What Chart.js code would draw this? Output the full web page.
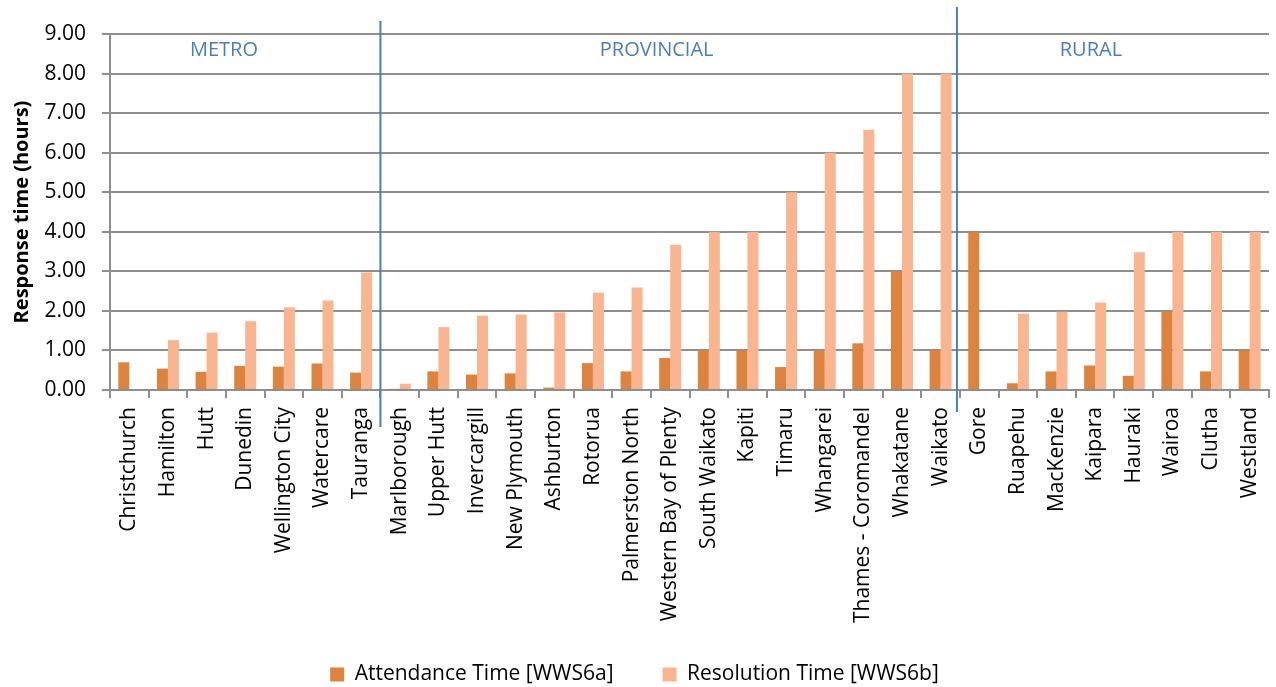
<!DOCTYPE html>
<html>
<head>
<meta charset="utf-8">
<title>Response time by council</title>
<script src="https://cdn.jsdelivr.net/npm/chart.js@4.4.1/dist/chart.umd.min.js"></script>
<style>
  html, body { margin: 0; padding: 0; background: #ffffff; }
  #wrap { width: 1276px; height: 687px; position: relative; }
</style>
</head>
<body>
<div id="wrap"><canvas id="chart"></canvas></div>
<script>
// Councils, grouped into metro / provincial / rural
const categories = [
  'Christchurch', 'Hamilton', 'Hutt', 'Dunedin', 'Wellington City', 'Watercare', 'Tauranga',
  'Marlborough', 'Upper Hutt', 'Invercargill', 'New Plymouth', 'Ashburton', 'Rotorua',
  'Palmerston North', 'Western Bay of Plenty', 'South Waikato', 'Kapiti', 'Timaru',
  'Whangarei', 'Thames - Coromandel', 'Whakatane', 'Waikato',
  'Gore', 'Ruapehu', 'MacKenzie', 'Kaipara', 'Hauraki', 'Wairoa', 'Clutha', 'Westland'
];

// Median response times in hours
const attendanceTime = [
  0.70, 0.54, 0.46, 0.61, 0.59, 0.67, 0.44,
  0.03, 0.47, 0.39, 0.42, 0.06, 0.68, 0.47, 0.81, 1.00, 1.00, 0.58, 1.00, 1.18, 3.00, 1.00,
  4.00, 0.17, 0.47, 0.62, 0.36, 2.00, 0.47, 1.00
];
const resolutionTime = [
  null, 1.26, 1.45, 1.74, 2.09, 2.26, 2.97,
  0.16, 1.59, 1.88, 1.91, 1.96, 2.46, 2.59, 3.67, 4.00, 4.00, 5.00, 6.00, 6.58, 8.00, 8.00,
  null, 1.93, 1.98, 2.21, 3.48, 4.00, 4.00, 4.00
];

const seriesNames = ['Attendance Time [WWS6a]', 'Resolution Time [WWS6b]'];
const groupNames = ['METRO', 'PROVINCIAL', 'RURAL'];
// first and last council of each group
const groupFirst = ['Christchurch', 'Marlborough', 'Gore'];
const groupLast = ['Tauranga', 'Waikato', 'Westland'];

const yTicks = { min: 0, max: 9, step: 1 };

const FONT = "'Open Sans', 'DejaVu Sans', sans-serif";
const GRID = '#8e8e8e';
const BLUE = '#4a7ebb';

// Group captions and the blue dividers between groups
const groupPlugin = {
  id: 'groupDividers',
  // let the long rotated council names run down past the axis box
  afterLayout(chart) {
    chart.scales.x.bottom = chart.height;
  },
  afterDatasetsDraw(chart) {
    const { ctx, chartArea, scales: { x } } = chart;
    // divider styling per boundary: horizontal nudge and vertical extent
    const dividerStyle = [
      { dx: 0, top: 21, below: 37 },
      { dx: -3, top: 7, below: 22 }
    ];
    // caption placement: shift from the group centre, in categories
    const captionShift = [-0.55, -0.35, -0.61];

    ctx.save();
    for (let g = 0; g < groupNames.length; g++) {
      const i0 = categories.indexOf(groupFirst[g]);
      const i1 = categories.indexOf(groupLast[g]);
      const mid = (i0 + i1) / 2 + captionShift[g];
      const cx = x.getPixelForValue(mid);
      ctx.fillStyle = BLUE;
      ctx.font = `20px ${FONT}`;
      ctx.textAlign = 'center';
      ctx.textBaseline = 'alphabetic';
      ctx.fillText(groupNames[g], cx, chartArea.top + 22);

      if (g < groupNames.length - 1) {
        const s = dividerStyle[g];
        const bx = (x.getPixelForValue(i1) + x.getPixelForValue(i1 + 1)) / 2 + s.dx;
        ctx.strokeStyle = BLUE;
        ctx.lineWidth = 2;
        ctx.beginPath();
        ctx.moveTo(bx, s.top);
        ctx.lineTo(bx, chartArea.bottom + s.below);
        ctx.stroke();
      }
    }
    ctx.restore();
  }
};

const ctx = document.getElementById('chart').getContext('2d');
new Chart(ctx, {
  type: 'bar',
  data: {
    labels: categories,
    datasets: [
      {
        label: seriesNames[0],
        data: attendanceTime,
        backgroundColor: '#dc843f',
        categoryPercentage: 0.57,
        barPercentage: 1.0
      },
      {
        label: seriesNames[1],
        data: resolutionTime,
        backgroundColor: '#f8b590',
        categoryPercentage: 0.57,
        barPercentage: 1.0
      }
    ]
  },
  options: {
    responsive: true,
    maintainAspectRatio: false,
    animation: false,
    devicePixelRatio: 1,
    layout: { padding: { top: 34, right: 7, bottom: -8, left: 0 } },
    plugins: {
      legend: {
        position: 'bottom',
        labels: {
          boxWidth: 14,
          boxHeight: 14,
          padding: 49,
          color: '#000000',
          font: { family: FONT, size: 21 }
        }
      },
      tooltip: { enabled: false }
    },
    scales: {
      x: {
        offset: true,
        grid: {
          display: true,
          drawOnChartArea: false,
          drawTicks: true,
          tickLength: 8,
          color: GRID,
          lineWidth: 2,
          offset: true
        },
        border: { color: GRID, width: 2 },
        ticks: {
          autoSkip: false,
          minRotation: 90,
          maxRotation: 90,
          padding: 9,
          color: '#000000',
          font: { family: FONT, size: 21 }
        },
        afterFit(scale) {
          scale.height = 225;
          scale.paddingLeft = 0;
          scale.paddingRight = 0;
        }
      },
      y: {
        min: yTicks.min,
        max: yTicks.max,
        grid: {
          color: GRID,
          lineWidth: 2,
          tickLength: 8,
          drawTicks: true
        },
        border: { color: GRID, width: 2 },
        ticks: {
          stepSize: yTicks.step,
          padding: 16,
          color: '#000000',
          font: { family: FONT, size: 21 },
          callback: (v) => Number(v).toFixed(2)
        },
        title: {
          display: true,
          text: 'Response time (hours)',
          color: '#000000',
          font: { family: FONT, size: 20, weight: 'bold' },
          padding: { top: 10, bottom: 0 }
        },
        afterFit(scale) { scale.width = 110; }
      }
    }
  },
  plugins: [groupPlugin]
});
</script>
</body>
</html>
